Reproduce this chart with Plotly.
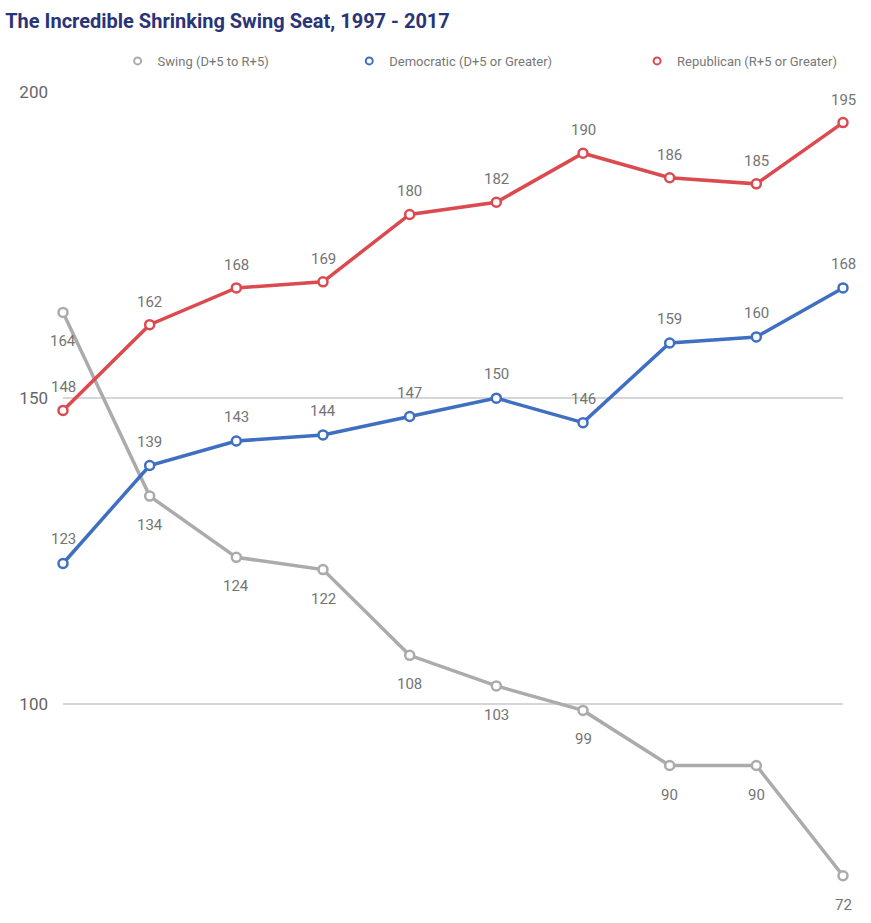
import plotly.graph_objects as go

periods = ["P1", "P2", "P3", "P4", "P5", "P6", "P7", "P8", "P9", "P10"]
swing = [164, 134, 124, 122, 108, 103, 99, 90, 90, 72]
dem = [123, 139, 143, 144, 147, 150, 146, 159, 160, 168]
rep = [148, 162, 168, 169, 180, 182, 190, 186, 185, 195]

names = ["Swing (D+5 to R+5)", "Democratic (D+5 or Greater)", "Republican (R+5 or Greater)"]
colors = ["#ababab", "#3f6fc0", "#db4a4f"]
series = [swing, dem, rep]
shifts = [-29, 24, 23]
legends = ["legend", "legend2", "legend3"]

fig = go.Figure()
annotations = []
for name, col, vals, sh in zip(names, colors, series, shifts):
    fig.add_trace(go.Scatter(
        x=periods, y=vals, mode="lines+markers", name=name,
        line=dict(color=col, width=3.5),
        marker=dict(symbol="circle", size=9, color="white", line=dict(color=col, width=2.5)),
        cliponaxis=False, showlegend=False, hoverinfo="skip",
    ))
    for p, v in zip(periods, vals):
        annotations.append(dict(x=p, y=v, text=str(v), showarrow=False, yshift=sh,
                                xref="x", yref="y",
                                font=dict(family="Roboto", size=15, color="#747474")))
for name, col, lg in zip(names, colors, legends):
    fig.add_trace(go.Scatter(
        x=[None], y=[None], mode="markers", name=name, legend=lg,
        marker=dict(symbol="circle", size=7, color="white", line=dict(color=col, width=2)),
    ))

leg_common = dict(orientation="h", yanchor="middle", xanchor="left", y=1.039,
                  font=dict(family="Roboto", size=13, color="#777777"),
                  bgcolor="rgba(0,0,0,0)", itemwidth=30)
fig.update_layout(
    width=871, height=923,
    margin=dict(l=63, r=28, t=92, b=35),
    paper_bgcolor="white", plot_bgcolor="white",
    title=dict(text="<b>The Incredible Shrinking Swing Seat, 1997 - 2017</b>",
               x=0.006, xanchor="left", y=0.977, yanchor="middle",
               font=dict(family="Roboto", size=20, color="#2a3578")),
    legend=dict(x=0.070, **leg_common),
    legend2=dict(x=0.367, **leg_common),
    legend3=dict(x=0.736, **leg_common),
    annotations=annotations,
    xaxis=dict(type="category", range=[0, 9], showgrid=False, showticklabels=False,
               zeroline=False, showline=False, ticks=""),
    yaxis=dict(range=[70, 200], tickvals=[100, 150, 200], showgrid=True,
               gridcolor="#d6d6d6", gridwidth=1.5, zeroline=False, showline=False,
               ticklabelstandoff=14,
               tickfont=dict(family="Roboto", size=17, color="#666666")),
)
fig.write_html("out.html")
